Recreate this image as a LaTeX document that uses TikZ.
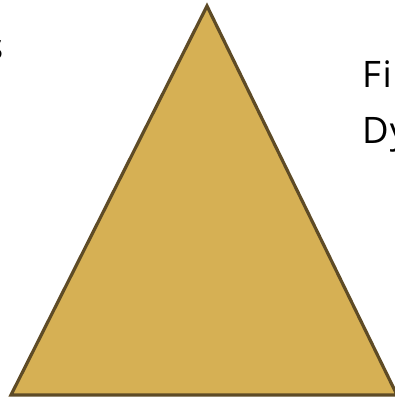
\documentclass[tikz,border=0pt]{standalone}
\usepackage{fontspec}
\setmainfont{Open Sans}
\definecolor{tfill}{RGB}{214,176,84}
\definecolor{tline}{RGB}{94,75,38}
\begin{document}
\begin{tikzpicture}[x=1pt,y=-1pt,
  lbl/.style={inner sep=0pt,font=\fontsize{36.5}{44}\selectfont,text=black}]
\useasboundingbox (0,0) rectangle (395,401);
\clip (0,0) rectangle (395,401);
\coordinate (apex) at (207,6);
\coordinate (bl) at (11,395);
\coordinate (br) at (397,395);
\draw[fill=tfill,draw=tline,line width=3.2pt,line join=miter] (apex) -- (br) -- (bl) -- cycle;
\node[lbl,anchor=base west] (fi) at (362,88) {F\kern1.5pt i};
\node[lbl,anchor=base west] (dy) at (362,143) {D\kern1pt y};
\node[lbl,anchor=base east] (s) at (3.5,60) {s};
\end{tikzpicture}
\end{document}
